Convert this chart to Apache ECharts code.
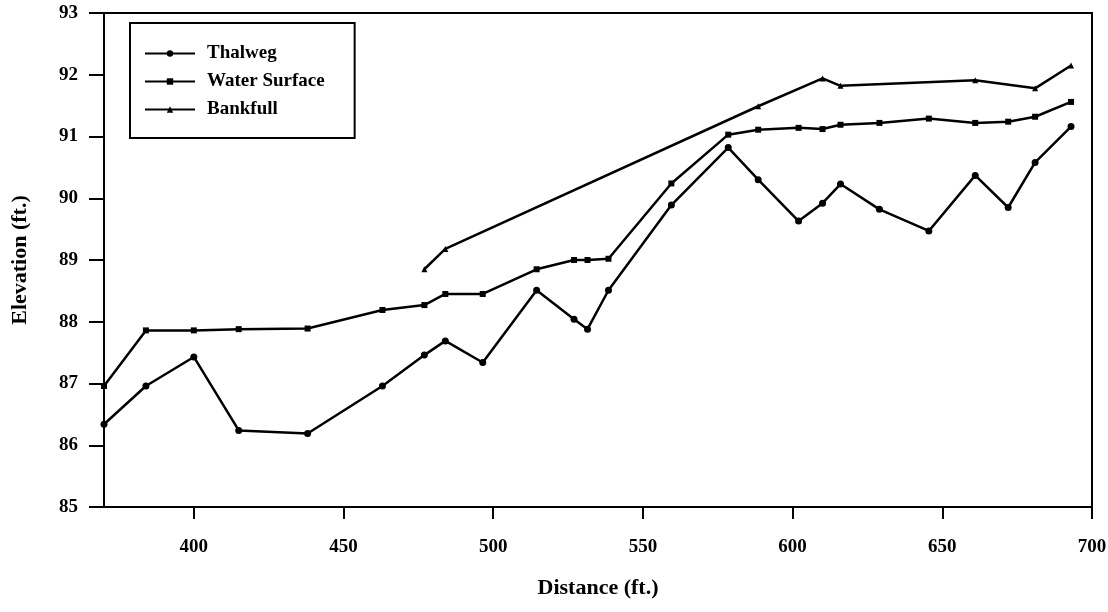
<!DOCTYPE html>
<html>
<head>
<meta charset="utf-8">
<script src="https://cdn.jsdelivr.net/npm/echarts@6/dist/echarts.min.js"></script>
<style>
  html, body { margin: 0; padding: 0; background: #fff; }
  #chart { width: 1108px; height: 612px; }
</style>
</head>
<body>
<div id="chart"></div>
<script>
// stations along the reach (ft.)
const stations = [370, 384, 400, 415, 438, 463, 477, 484, 496.5, 514.5, 527, 531.5, 538.5,
  559.5, 578.5, 588.5, 602, 610, 616, 629, 645.5, 661, 672, 681, 693];
const thalweg = [86.34, 86.96, 87.43, 86.24, 86.19, 86.96, 87.46, 87.69, 87.34, 88.51, 88.04, 87.88, 88.51,
  89.89, 90.82, 90.30, 89.63, 89.92, 90.23, 89.82, 89.47, 90.37, 89.85, 90.58, 91.16];
const waterSurface = [86.96, 87.86, 87.86, 87.88, 87.89, 88.19, 88.27, 88.45, 88.45, 88.85, 89.0, 89.0, 89.02,
  90.24, 91.03, 91.11, 91.14, 91.12, 91.19, 91.22, 91.29, 91.22, 91.24, 91.32, 91.56];
const bankStations = [477, 484, 588.5, 610, 616, 661, 681, 693];
const bankfull = [88.85, 89.18, 91.49, 91.94, 91.82, 91.91, 91.78, 92.15];
const xTicks = [400, 450, 500, 550, 600, 650, 700];

const font = 'Liberation Serif';
const pairs = (xs, ys) => xs.map((x, i) => [x, ys[i]]);

const chart = echarts.init(document.getElementById('chart'));

function lineSeries (name, data, symbol, size)
{
  return {
    name: name,
    type: 'line',
    data: data,
    symbol: symbol,
    symbolSize: size,
    lineStyle: { color: '#000', width: 2.5 },
    itemStyle: { color: '#000' },
    animation: false
  };
}

chart.setOption({
  backgroundColor: '#fff',
  textStyle: { fontFamily: font, color: '#000' },
  grid: {
    left: 104, right: 16, top: 13, bottom: 105,
    outerBoundsMode: 'none',
    show: true, borderColor: '#000', borderWidth: 2
  },
  legend: {
    orient: 'vertical',
    left: 130,
    top: 23,
    itemWidth: 50,
    itemHeight: 8,
    itemGap: 9,
    padding: [21, 30, 19, 14],
    borderColor: '#000',
    borderWidth: 2,
    textStyle: { fontFamily: font, fontWeight: 'bold', fontSize: 19, color: '#000', padding: [0, 0, 0, 7] },
    data: ['Thalweg', 'Water Surface', 'Bankfull']
  },
  xAxis: {
    type: 'value',
    min: 370,
    max: 700,
    name: 'Distance (ft.)',
    nameLocation: 'middle',
    nameGap: 70,
    nameTextStyle: { fontFamily: font, fontWeight: 'bold', fontSize: 22, color: '#000' },
    axisLine: { lineStyle: { color: '#000', width: 2 } },
    axisTick: { show: true, customValues: xTicks, length: 12, lineStyle: { color: '#000', width: 2 } },
    axisLabel: { customValues: xTicks, margin: 31, fontFamily: font, fontWeight: 'bold', fontSize: 19, color: '#000' },
    splitLine: { show: false }
  },
  yAxis: {
    type: 'value',
    min: 85,
    max: 93,
    interval: 1,
    name: 'Elevation (ft.)',
    nameLocation: 'middle',
    nameGap: 73,
    nameTextStyle: { fontFamily: font, fontWeight: 'bold', fontSize: 22, color: '#000' },
    axisLine: { show: true, lineStyle: { color: '#000', width: 2 } },
    axisTick: { show: true, length: 15, lineStyle: { color: '#000', width: 2 } },
    axisLabel: { margin: 26, fontFamily: font, fontWeight: 'bold', fontSize: 19, color: '#000' },
    splitLine: { show: false }
  },
  series: [
    lineSeries('Thalweg', pairs(stations, thalweg), 'circle', 7),
    lineSeries('Water Surface', pairs(stations, waterSurface), 'rect', 6),
    lineSeries('Bankfull', pairs(bankStations, bankfull), 'triangle', 6)
  ]
});
</script>
</body>
</html>
